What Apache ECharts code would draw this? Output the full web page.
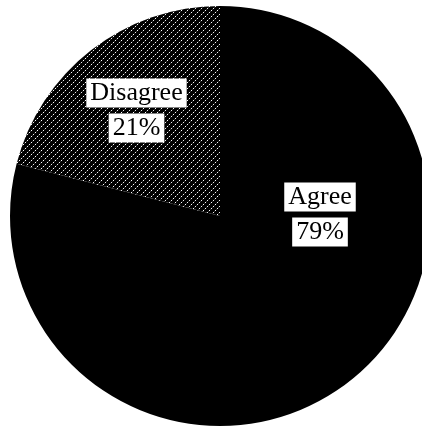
<!DOCTYPE html>
<html>
<head>
<meta charset="utf-8">
<script src="https://cdn.jsdelivr.net/npm/echarts@6/dist/echarts.min.js"></script>
<style>
html,body{margin:0;padding:0;background:#fff;}
#main{width:422px;height:428px;}
</style>
</head>
<body>
<div id="main"></div>
<script>
// Data
const categories = ['Agree', 'Disagree'];
const values = [79, 21];
const valueLabels = ['79%', '21%'];

// hatch pattern for the Disagree slice
function makeHatch() {
  const c = document.createElement('canvas');
  c.width = 6; c.height = 6;
  const ctx = c.getContext('2d');
  ctx.fillStyle = '#000';
  ctx.fillRect(0, 0, 6, 6);
  const pts = [[5,0,'#fff'],[4,1,'#333'],[3,2,'#eee'],[2,3,'#333'],[1,4,'#fff'],[0,5,'#333']];
  pts.forEach(p => { ctx.fillStyle = p[2]; ctx.fillRect(p[0], p[1], 1, 1); });
  return c;
}

const cx = 220, cy = 216, R = 210;
const labelOffsets = [[100, -1.5], [-83.5, -105.5]];

const boxStyle = {
  fontFamily: 'Liberation Serif',
  fontSize: 26,
  color: '#000',
  backgroundColor: '#fff',
  padding: [2, 4, 1, 4],
  lineHeight: 35
};

const chart = echarts.init(document.getElementById('main'), null, {renderer: 'canvas'});
chart.setOption({
  backgroundColor: '#fff',
  animation: false,
  series: [{
    type: 'pie',
    center: [cx, cy],
    radius: R,
    startAngle: 90,
    clockwise: true,
    avoidLabelOverlap: false,
    emphasis: {disabled: true},
    itemStyle: {borderWidth: 0},
    label: {
      show: true,
      position: 'inside',
      formatter: p => '{t|' + p.name + '}\n{t|' + valueLabels[p.dataIndex] + '}',
      rich: {t: boxStyle}
    },
    labelLine: {show: false},
    labelLayout: function (params) {
      const o = labelOffsets[params.dataIndex];
      return {x: cx + o[0], y: cy + o[1], align: 'center', verticalAlign: 'middle'};
    },
    data: categories.map((name, i) => ({
      name: name,
      value: values[i],
      itemStyle: {color: i === 0 ? '#000' : {image: makeHatch(), repeat: 'repeat'}}
    }))
  }]
});
</script>
</body>
</html>
